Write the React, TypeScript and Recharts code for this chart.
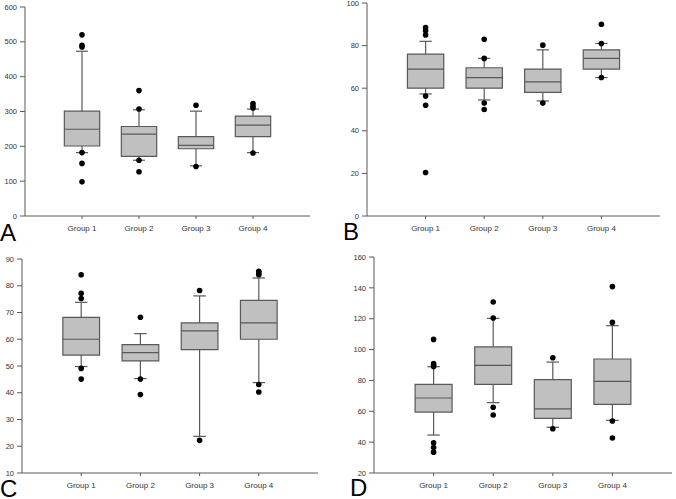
import React from 'react';
import { ComposedChart, XAxis, YAxis, ReferenceArea, ReferenceLine, Scatter } from 'recharts';

const groups = ['Group 1', 'Group 2', 'Group 3', 'Group 4'];

// Panel A
const aLow = [182, 160, 144, 182];
const aQ1 = [201, 171, 193, 228];
const aMedian = [249, 235, 203, 261];
const aQ3 = [301, 257, 228, 287];
const aHigh = [473, 305, 301, 307];
const aOutliers = [
  [520, 490, 485, 182, 151, 98],
  [360, 307, 160, 127],
  [318, 142],
  [323, 316, 310, 181],
];
const aTicks = [0, 100, 200, 300, 400, 500, 600];

// Panel B
const bLow = [57.3, 54.5, 54, 65];
const bQ1 = [60, 60, 58, 69];
const bMedian = [69, 65, 63, 74];
const bQ3 = [76, 69.6, 69, 78];
const bHigh = [82, 74, 78, 81];
const bOutliers = [
  [88.5, 87, 85, 56.3, 52, 20.4],
  [83, 74, 53, 50],
  [80.2, 53],
  [90, 81, 65],
];
const bTicks = [0, 20, 40, 60, 80, 100];

// Panel C
const cLow = [49.8, 45.3, 23.7, 43.8];
const cQ1 = [54.1, 51.9, 56.1, 60];
const cMedian = [60, 55, 63.1, 66.1];
const cQ3 = [68.2, 58, 66.1, 74.5];
const cHigh = [73.8, 62.1, 76.2, 82.9];
const cOutliers = [
  [84.1, 77.2, 75.2, 49.1, 45.1],
  [68.2, 45.1, 39.3],
  [78.2, 22.2],
  [85.4, 84.9, 84.1, 43.1, 40.3],
];
const cTicks = [10, 20, 30, 40, 50, 60, 70, 80, 90];

// Panel D
const dLow = [44.6, 65.6, 49.6, 54.1];
const dQ1 = [59.5, 77.5, 55.4, 64.5];
const dMedian = [68.6, 89.8, 61.5, 79.4];
const dQ3 = [77.5, 101.7, 80.5, 93.9];
const dHigh = [88.9, 120.2, 91.9, 115.5];
const dOutliers = [
  [106.6, 91, 90, 89, 39.5, 36.5, 33.5],
  [130.8, 120.5, 62.6, 57.6],
  [94.7, 48.7],
  [140.8, 117.6, 53.7, 42.7],
];
const dTicks = [20, 40, 60, 80, 100, 120, 140, 160];

const AXIS = '#595959';
const BOX_FILL = '#c0c0c0';
const FONT = '"Liberation Sans", Arial, sans-serif';
const BOX_HALF = 0.31;
const CAP_HALF = 0.105;

interface PanelProps {
  letter: string;
  left: number;
  top: number;
  width: number;
  height: number;
  margin: { top: number; right: number; bottom: number; left: number };
  yWidth: number;
  yTicks: number[];
  low: number[];
  q1: number[];
  median: number[];
  q3: number[];
  high: number[];
  outliers: number[][];
  letterLeft: number;
  letterTop: number;
}

function BoxPanel(p: PanelProps) {
  const domain: [number, number] = [p.yTicks[0], p.yTicks[p.yTicks.length - 1]];
  const points = p.outliers.flatMap((vals, i) => vals.map((v) => ({ x: i + 1, y: v })));
  const stroke = { stroke: AXIS, strokeWidth: 1.2 };

  return (
    <div style={{ position: 'absolute', left: p.left, top: p.top, width: p.width, height: p.height }}>
      <ComposedChart width={p.width} height={p.height} margin={p.margin}>
        <XAxis
          type="number"
          dataKey="x"
          domain={[0, 5]}
          ticks={[1, 2, 3, 4]}
          tickFormatter={(v: number) => groups[v - 1]}
          height={20}
          tickSize={3}
          tickMargin={6}
          stroke={AXIS}
          tick={{ fill: '#333', fontSize: 8, fontFamily: FONT }}
          allowDataOverflow
        />
        <XAxis xAxisId="top" orientation="top" type="number" domain={[0, 5]} height={0} tick={false} tickLine={false} stroke={AXIS} />
        <YAxis
          type="number"
          dataKey="y"
          domain={domain}
          ticks={p.yTicks}
          width={p.yWidth}
          tickSize={5}
          tickMargin={3}
          stroke={AXIS}
          tick={{ fill: '#333', fontSize: 7.5, fontFamily: FONT }}
          interval={0}
          allowDataOverflow
        />
        <YAxis yAxisId="right" orientation="right" type="number" domain={domain} width={0} tick={false} tickLine={false} stroke={AXIS} />

        {groups.map((_, i) => {
          const g = i + 1;
          return (
            <React.Fragment key={g}>
              <ReferenceLine segment={[{ x: g, y: p.q3[i] }, { x: g, y: p.high[i] }]} {...stroke} />
              <ReferenceLine segment={[{ x: g - CAP_HALF, y: p.high[i] }, { x: g + CAP_HALF, y: p.high[i] }]} {...stroke} />
              <ReferenceLine segment={[{ x: g, y: p.low[i] }, { x: g, y: p.q1[i] }]} {...stroke} />
              <ReferenceLine segment={[{ x: g - CAP_HALF, y: p.low[i] }, { x: g + CAP_HALF, y: p.low[i] }]} {...stroke} />
              <ReferenceArea
                x1={g - BOX_HALF}
                x2={g + BOX_HALF}
                y1={p.q1[i]}
                y2={p.q3[i]}
                fill={BOX_FILL}
                fillOpacity={1}
                {...stroke}
              />
              <ReferenceLine segment={[{ x: g - BOX_HALF, y: p.median[i] }, { x: g + BOX_HALF, y: p.median[i] }]} {...stroke} />
            </React.Fragment>
          );
        })}

        <Scatter
          data={points}
          isAnimationActive={false}
          shape={(s: any) => <circle cx={s.cx} cy={s.cy} r={2.8} fill="#000" />}
        />
      </ComposedChart>
      <div
        style={{
          position: 'absolute',
          left: p.letterLeft,
          top: p.letterTop,
          fontFamily: FONT,
          fontSize: 24,
          lineHeight: '18px',
          color: '#000',
        }}
      >
        {p.letter}
      </div>
    </div>
  );
}

export default function App() {
  return (
    <div style={{ position: 'absolute', left: 0, top: 0, width: 676, height: 499, background: '#fff', overflow: 'hidden' }}>
      <BoxPanel
        letter="A" left={0} top={0} width={338} height={245}
        margin={{ top: 7, right: 28, bottom: 9, left: 0 }} yWidth={25} yTicks={aTicks}
        low={aLow} q1={aQ1} median={aMedian} q3={aQ3} high={aHigh} outliers={aOutliers}
        letterLeft={0} letterTop={224}
      />
      <BoxPanel
        letter="B" left={338} top={0} width={338} height={245}
        margin={{ top: 3, right: 16, bottom: 9, left: 0 }} yWidth={29} yTicks={bTicks}
        low={bLow} q1={bQ1} median={bMedian} q3={bQ3} high={bHigh} outliers={bOutliers}
        letterLeft={5} letterTop={223}
      />
      <BoxPanel
        letter="C" left={0} top={245} width={338} height={254}
        margin={{ top: 14, right: 20, bottom: 6, left: 0 }} yWidth={22} yTicks={cTicks}
        low={cLow} q1={cQ1} median={cMedian} q3={cQ3} high={cHigh} outliers={cOutliers}
        letterLeft={0} letterTop={235}
      />
      <BoxPanel
        letter="D" left={338} top={245} width={338} height={254}
        margin={{ top: 12, right: 4, bottom: 6, left: 0 }} yWidth={36} yTicks={dTicks}
        low={dLow} q1={dQ1} median={dMedian} q3={dQ3} high={dHigh} outliers={dOutliers}
        letterLeft={12} letterTop={234}
      />
    </div>
  );
}
